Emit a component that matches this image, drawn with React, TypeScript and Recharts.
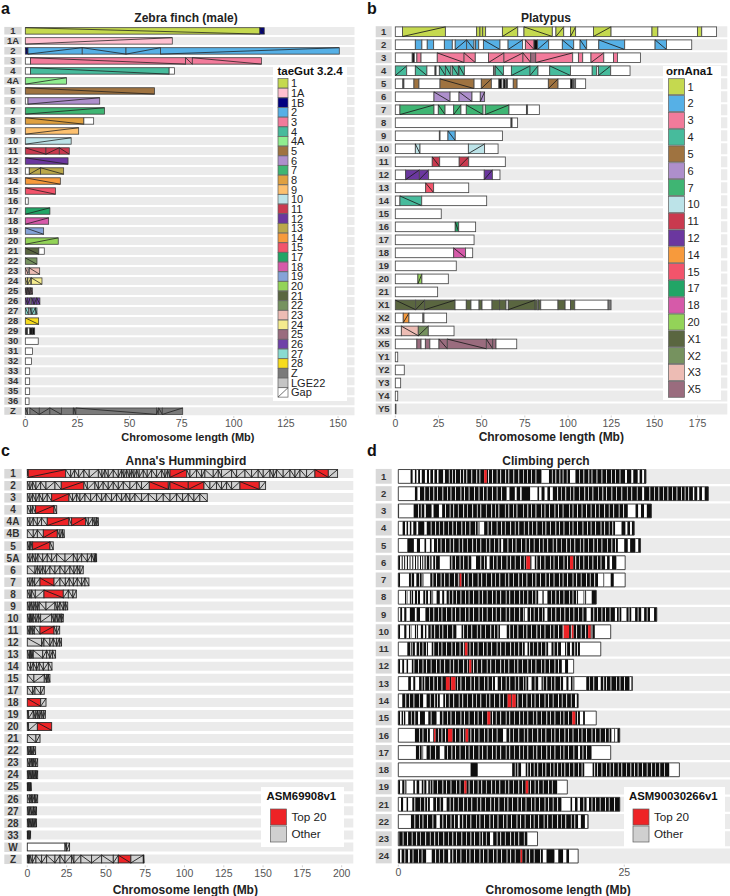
import React from "react"
import { BarChart, Bar, XAxis, YAxis, Legend } from "recharts"

// [start Mb, end Mb, colour key, diagonal direction]
type Block = [number, number, string, number?]

const FONT = "'Liberation Sans', Arial, sans-serif"
const WHITE = "#ffffff"

/* ---------- a: zebra finch ---------- */
const finchNames = ["1","1A","2","3","4","4A","5","6","7","8","9","10","11","12","13","14","15","16","17","18","19","20","21","22","23","24","25","26","27","28","29","30","31","32","33","34","35","36","Z"]
const finchLengths = [114.6,70.5,150.6,113.3,71.5,19.8,62,35.7,38,32.8,25.6,22,21.1,20.5,18.4,16.8,14.5,1.4,11.8,11.2,8.8,15.8,9.1,5.6,6.9,8,3.4,7,5.6,6.4,4.5,6.2,3.4,3,2.1,2.1,2.1,1.8,75.5]
const finchBlocks: Block[][] = [
  [[0,112.5,"1",1],[112.5,114.6,"1B",1]],
  [[0,70.5,"1A",-1]],
  [[0,1.3,"1B",1],[1.3,27.3,"2",-1],[27.3,48.3,"2",1],[48.3,64.9,"2",-1],[64.9,150.6,"2",-1]],
  [[2.5,76.9,"3",1],[76.9,80.1,"3",1],[80.1,113.3,"3",1]],
  [[2.5,69,"4",1]],
  [[0,19.8,"4A",-1]],
  [[0,62,"5",1]],
  [[1.3,35.7,"6",-1]],
  [[0,38,"7",-1]],
  [[0,28.1,"8",1]],
  [[0,25.6,"9",-1]],
  [[0,22,"10",-1]],
  [[0,9.9,"11",1],[9.9,16.3,"11",-1],[16.3,21.1,"11",1]],
  [[0,20.5,"12",1]],
  [[1.9,7.35,"13",-1],[7.35,18.4,"13",1]],
  [[0,16.8,"14",1]],
  [[0,14.5,"15",1]],
  [],
  [[0,11.8,"17",-1]],
  [[0,11.2,"18",-1]],
  [[0,8.8,"19",1]],
  [[0,15.8,"20",-1]],
  [[0,6.5,"21",1]],
  [[0,5.6,"22",1]],
  [[0,1.4,"23",1],[1.9,6.9,"23",1]],
  [[0,1,"24",1],[1.2,2.7,"24",-1],[2.9,8,"24",1]],
  [[0,0.6,"25",1],[0.6,1.2,"25",-1],[1.2,1.9,"25",1],[1.9,2.6,"25",-1],[2.6,3.4,"25",1]],
  [[0,1.1,"26",1],[1.1,2.4,"26",-1],[3.1,4.2,"26",1],[4.2,5.5,"26",-1],[5.5,7,"26",1]],
  [[0,1.5,"27",1],[2.3,3.2,"27",1],[3.2,4.8,"27",-1],[4.8,5.6,"27",1]],
  [[0,6.4,"28",1]],
  [[0,0.5,"dense"],[0.5,1,"dense"],[2.2,3.3,"dense"],[3.3,4.5,"dense"]],
  [],[],[],[],[],[],[],
  [[0,1.3,"Z",1],[2.2,6.7,"Z",1],[6.7,11.8,"Z",-1],[11.8,17.3,"Z",1],[17.3,23,"Z"],[23.3,24.3,"Z",1],[24.3,63,"Z",1],[63,64,"Z",-1],[64,65.7,"Z",1],[65.7,75.5,"Z",-1]],
]
const finchKeys = ["1","1A","1B","2","3","4","4A","5","6","7","8","9","10","11","12","13","14","15","17","18","19","20","21","22","23","24","25","26","27","28","Z","LGE22","Gap"]
const finchTicks = [0,25,50,75,100,125,150]

const PALETTE: Record<string, string> = {
  "1":"#c5d94f","1A":"#ffc0d0","1B":"#000080","2":"#56b0e6","3":"#f27b9b","4":"#47bb9c","4A":"#90ee90","5":"#9f7340",
  "6":"#ae8fcc","7":"#3fb573","8":"#dfa040","9":"#fcc06f","10":"#bce3e8","11":"#c93a4f","12":"#6b379f","13":"#bba84a",
  "14":"#f79a3c","15":"#f2546b","17":"#22a566","18":"#d65aa9","19":"#85a3d8","20":"#93d358","21":"#5a6640","22":"#76925f",
  "23":"#edbcb4","24":"#f5eb8e","25":"#9a6c7e","26":"#6f41a8","27":"#8adbd2","28":"#f7dc1e","Z":"#7a7a7a","LGE22":"#c4c4c4",
  "X1":"#5a6640","X2":"#76925f","X3":"#edbcb4","X5":"#9a6c7e","Gap":WHITE,"dense":"#0e0e0e",
  "Top 20":"#ee2326","Other":"#d0d0d0","blank":WHITE,
}

/* ---------- b: platypus ---------- */
const platypusNames = ["1","2","3","4","5","6","7","8","9","10","11","12","13","14","15","16","17","18","19","20","21","X1","X2","X3","X5","Y1","Y2","Y3","Y4","Y5"]
const platypusLengths = [186,171.6,141.9,135.9,110.2,51.7,83.4,70.8,62,59.5,63.7,60.6,42.5,52.9,26.6,46.5,45.6,44.8,35.3,30.7,24.5,124.9,29.7,34,70.3,1.4,5.2,3.1,1.4,0.4]
const platypusBlocks: Block[][] = [
  [[4.2,29,"1",-1],[47.1,49,"1"],[49,50.6,"1"],[50.6,52.3,"1"],[62,70.9,"1",-1],[74.5,90.9,"1",1],[93,97.5,"1",-1],[101.4,104.4,"1",-1],[114.7,124.9,"1",-1],[148.6,152,"1"],[174.9,177.4,"1"]],
  [[11.6,15.4,"2"],[18.5,22.2,"2"],[28.4,33,"2"],[34.7,41.3,"2",-1],[41.3,45.6,"2",1],[46.5,48.3,"2"],[51,60.6,"2",1],[65.3,73.7,"2",-1],[75.3,80.3,"3",1],[80.3,82.4,"dense"],[82.4,88.8,"2",-1],[96.7,103.3,"2",1],[107,110.8,"2",1],[117.8,132.8,"2",1],[150.4,157,"2",1]],
  [[9.8,11,"dense"],[12.5,14.9,"3"],[24.3,39.8,"3",1],[39.8,46.3,"3",1],[54,62.9,"3",-1],[62.9,73.9,"3",-1],[73.9,78.4,"3",1],[78.4,81.3,"25"],[81.3,102.7,"3",-1],[106,108.5,"3"],[113.3,120.7,"3",-1],[126.3,128.6,"3"]],
  [[0,6.6,"4",-1],[11.6,18.3,"4",1],[23,23.6,"dense"],[25.5,29,"4",1],[29,32.2,"4",1],[33,36.5,"4",1],[36.9,40,"4",1],[56.8,57.9,"Z"],[57.9,62.7,"4",1],[67.2,78,"4",-1],[78,82.6,"4",-1],[89.4,101.4,"4",1],[114,116.6,"4"],[117.6,124.7,"4",-1]],
  [[4.4,5,"dense"],[10.8,13.7,"5"],[25.9,45.6,"5",1],[49.8,55.6,"5",-1],[60,61.5,"dense"],[62.5,63.7,"dense"],[64.2,65,"dense"],[68.3,70.5,"5"],[88.6,94.2,"5",-1],[101.5,102.8,"dense"],[103.3,104.4,"Z"]],
  [[22.4,31.7,"6",1],[36.9,44.4,"6",1],[49.2,51.7,"6",-1]],
  [[2.7,22.4,"7",-1],[24.9,28.8,"7",1],[33.8,38,"7",-1],[41.1,50.8,"7",1],[52.1,65.8,"7",-1],[75.9,76.6,"dense"]],
  [[67,67.6,"dense"]],
  [[25.5,25.9,"dense"],[30.5,34.7,"2",1]],
  [[11.6,14.3,"10",1],[42.3,51.7,"10",-1]],
  [[21.4,25.7,"11",1],[37,42.5,"11",-1]],
  [[6,13.9,"12",-1],[13.9,19.3,"12",-1],[51.5,56.2,"12",-1]],
  [[17.6,22.2,"15",1]],
  [[2.7,15.3,"4",1]],
  [],
  [[34.7,36.7,"17",1]],
  [],
  [[33.8,40.7,"18",1]],
  [],
  [[13.1,15.4,"20",-1]],
  [],
  [[0,11.8,"X1",1],[11.8,17,"X1",-1],[17,34.6,"X1",-1],[41.1,43.8,"X1"],[48.5,50.2,"X1"],[56,60.4,"X1"],[60.4,64.1,"X1"],[65.4,80.9,"X1",-1],[80.9,82.2,"X1"],[82.8,84.2,"X1"],[94.2,98.3,"X1"],[101.4,103.9,"X1"],[123.2,124.9,"Z"]],
  [[4.6,7.9,"14",-1],[16,16.6,"Z"]],
  [[3.5,13.3,"X3",1],[13.3,19.1,"X2",-1]],
  [[12.5,14.9,"X5"],[17.4,20,"X5"],[25.3,30.1,"X5",1],[30.1,52.7,"X5",1],[52.7,56.4,"X5",1],[56.4,58.3,"X5"]],
  [],[],[],[],[[0,0.4,"dense"]],
]
const platypusKeys = ["1","2","3","4","5","6","7","10","11","12","14","15","17","18","20","X1","X2","X3","X5"]
const platypusTicks = [0,25,50,75,100,125,150,175]

/* ---------- c: Anna's hummingbird ---------- */
const hummingNames = ["1","2","3","4","4A","4B","5","5A","6","7","8","9","10","11","12","13","14","15","17","18","19","20","21","22","23","24","25","26","27","28","33","W","Z"]
const hummingEdges: number[][] = [
  [0,0.6,24.4,27.6,30.1,32.7,36,39.4,45.2,47.5,49.4,51.5,54.7,57.9,60,61.5,63.2,64.9,66.4,67.9,69.6,71.2,73.8,76.3,79.1,82.3,85.5,87.6,89.3,90.8,101.4,103.5,107.7,110.9,113,118.3,121.5,123.6,130,133.2,138.5,142.7,146.9,150.1,154.4,156.5,158.6,162.8,167.1,170.3,173.5,177.7,183,191.5,197.4],
  [0,1.7,3.4,5.5,8.5,11.9,17.6,21.6,36,38.2,43,45.2,48.3,51.5,54.7,57.9,61.1,65.3,69.6,72.7,77.6,89.7,90.8,102.4,112.4,116.2,120.4,123.6,126.8,130,135.3,147.6,151.6],
  [0,1.7,3.4,5.5,7.6,9.8,12.7,15.5,26.5,28.8,31.4,33.5,36.7,40.3,44.1,47.3,50,53.6,56.8,60,62.8,65.3,68.5,72.7,77,82.3,86.5,90.8,95,98.8,102.4,106,109.8,114.5],
  [0,2.1,3.4,5.3,17,18.7],
  [0,1.7,3.8,6.4,9.1,12.7,26.5,28.2,37.1,38.8,41.6,43,44.1,45.2],
  [0,3.8,6.4,10.2,19.1,20.8,22.3,23.5],
  [0,1.3,2.3,3.4,14.4,16.5],
  [0,1.7,3.4,5.1,6.8,9.8,12.7,15.5,18.7,24,29.3,31.8,34.6,38.2,40.9,42.6,43.3,44.1],
  [0,4.9,6.4,8.1,9.8,11.5,14.4,17.6,20.8,24,27.1,29.7,31.8,33.5,35.6],
  [0,1.7,3.2,4.7,8.1,17,20.8,24.2,26.7,29.3,31.8,34.6,36.7,39.2],
  [0,1.7,2.8,5.1,10.6,22.9,26.1,29,31.2],
  [0,1.3,2.5,3.8,5.1,6.4,7.6,11.9,17.6,19.1,20.8,22.9,24.2,25.7],
  [0,1.3,2.1,3,3.8,5.5,7,8.5,15.5,17,18.2,19.5,20.8,21.8,22.9],
  [0,1.3,2.3,3.4,4.5,8.1,17,18.7,20.6],
  [0,9.1,10.6,14.4,16.5,18.7,20.4,21.8],
  [0,1.3,2.1,3,3.8,9.8,12.3,14.4,16.1,18],
  [0,2.1,3.8,5.9,7.6,10.2,13.4,15.7],
  [0,4.2,10.8,12.3,13.3,14.4],
  [0,3.4,4.9,8.5,10.8],
  [0,8.5,11.9],
  [0,0.8,3.8,5.1,6.4,7.6,8.9,10.2,11.5],
  [0,0.8,6.4,15.5],
  [0,5.5,8.1],
  [0,1,2,3,4,5.3],
  [0,1.3,2.5,3.4,4.2,5.3,6.6],
  [0,0.8,1.7,2.5,3.4,4.2,5.1,5.8,6.6],
  [0,0.5,1,1.5,2,2.5],
  [0,1.5,2.5,3.2,4.5,5.5,6.6],
  [0,1,1.8,3,4,5,5.9],
  [0,0.8,1.7,2.5,3.4,4.2,5,5.9],
  [0,0.5,1,1.5,2.1],
  [24,25,26.9],
  [0,0.8,1.7,3.2,5.5,9.1,12.3,17.6,20.8,24,28.2,29.7,34.1,40.9,47.3,54.7,57.9,65.9,73.8,74.2],
]
// chromosome name -> spans that are in the top 20 longest scaffolds
const hummingTop20: Record<string, number[][]> = {
  "1": [[0.6,24.4],[90.8,101.4],[183,191.5]],
  "2": [[21.6,36],[77.6,89.7],[90.8,102.4],[102.4,112.4],[135.3,147.6]],
  "3": [[15.5,26.5]],
  "4": [[5.3,17]],
  "4A": [[12.7,26.5],[28.2,37.1]],
  "4B": [[10.2,19.1]],
  "5": [[3.4,14.4]],
  "7": [[8.1,17]],
  "8": [[10.6,22.9]],
  "11": [[8.1,17]],
  "18": [[0,8.5]],
  "20": [[6.4,15.5]],
  "Z": [[57.9,65.9]],
}
const hummingTicks = [0,25,50,75,100,125,150,175,200]

/* ---------- d: climbing perch ---------- */
const perchNames = ["1","2","3","4","5","6","7","8","9","10","11","12","13","14","15","16","17","18","19","21","22","23","24"]
const perchLengths = [27.4,34.3,28,26.1,26.8,25.1,25.1,21.9,28.6,23.5,22.4,19.4,25.9,19.9,21.9,24.5,23.5,31.1,18.7,24.5,21,15.4,19.9]
const perchGaps: number[][][] = [
  [[0,1.36],[1.6,1.84],[2.03,2.2],[2.4,2.6],[2.95,3.17],[3.4,3.55],[3.85,4],[4.3,4.45],[4.98,5.16],[15.86,16.67],[19,19.6],[25.1,25.3],[25.8,26],[26.5,26.7],[27,27.2]],
  [[0,1.84],[2.14,2.4],[12,12.3],[12.9,13.1],[13.5,13.65],[14.6,15.4],[15.6,15.85],[16.2,16.5],[16.8,17.1],[27,27.2],[32.6,32.75],[33.1,33.3],[33.6,33.9]],
  [[0.1,1.7],[2.9,3.05],[3.7,3.9],[4.5,4.85],[25.4,26.25],[26.55,26.85],[27.2,27.5]],
  [[0,0.48],[0.75,0.92],[1.1,1.28],[1.47,1.66],[2.03,2.2],[2.9,3.15],[9,9.5],[24,24.7],[25.15,25.35],[25.65,25.85]],
  [[0,1],[1.73,2.06],[2.4,2.9],[3.1,3.5],[3.7,3.95],[11.4,11.6],[24.3,25],[25.4,25.65],[26.25,26.55]],
  [[0.2,0.38],[0.5,0.65],[0.78,0.95],[1.07,1.25],[1.37,1.55],[1.68,1.85],[1.97,2.12],[2.25,2.4],[2.52,2.65],[2.78,2.9],[3.05,3.15],[3.7,3.87],[4.6,5.7],[8.1,8.6],[9.8,10.1],[14.75,15.1],[22.9,23.1],[23.4,23.65],[24.15,25.1]],
  [[0.2,1.18],[1.77,2],[2.8,3.54],[22.1,22.7],[22.8,23.5],[23.85,25.1]],
  [[0,0.74],[1.03,1.28],[1.66,1.84],[2.4,2.77],[3.3,3.5],[3.87,4.24],[4.6,4.86],[5.1,5.35],[15.5,15.95],[16.1,16.5],[19.9,20.5],[20.8,21.4]],
  [[0,0.22],[0.44,0.66],[0.92,1.28],[1.84,2.03],[2.4,3],[14,14.3],[16.2,16.5],[20.85,21.3],[23.97,24.2],[24.7,25.25],[25.8,26.2],[26.9,27.2],[27.85,28.3]],
  [[0.2,0.66],[0.92,1.18],[1.47,1.84],[2.2,2.5],[2.77,2.95],[3.13,3.32],[6.45,7],[11.25,12],[21.75,23.5]],
  [[0,1],[1.84,2.03],[3.3,3.7],[14,14.3],[16.6,16.95],[18,18.45],[19,19.2],[20.1,22.4]],
  [[0.2,0.44],[0.66,0.92],[1.1,1.5],[18.1,18.45],[18.8,19.4]],
  [[0,1.1],[1.4,1.66],[1.9,2.3],[10.7,11],[14.4,14.75],[15.5,15.85],[18.25,18.6],[18.85,19.1],[19.5,20.8],[22.1,22.4],[25.6,25.8]],
  [[0,0.44],[2.77,3.13],[4.6,4.98],[19.55,19.75]],
  [[0.2,0.37],[0.8,1.1],[2.2,2.4],[2.95,3.32],[4.25,4.6],[20.1,20.45],[20.65,21.9]],
  [[0,1.84],[3.5,3.87],[11.6,11.97],[23.6,23.9],[24,24.25]],
  [[0,1.95],[2.77,3.13],[4.6,5.1],[19.9,20.1],[21.4,23.5]],
  [[0,8],[8.8,12.6],[13.6,14.1],[20.6,21.5],[30,31.1]],
  [[0.2,0.44],[0.92,1.66],[1.84,2.03],[2.4,2.6],[3.13,3.32],[17.6,18.7]],
  [[0,0.3],[0.55,0.92],[1.1,1.55],[3.5,3.87],[4.98,5.35],[18.07,19.06],[19.25,19.55],[19.85,20.1],[20.85,21.1]],
  [[0,1.4],[4.24,4.6],[6.6,6.8],[19.9,20.2],[20.65,20.95]],
  [[0,0.1],[10.15,10.5],[14.3,15.4]],
  [[0.2,0.37],[1.1,1.28],[3.1,3.7],[5.53,5.75],[16,16.4],[17.3,17.7],[18.25,18.6],[18.9,19.9]],
]
// thin light lines inside the dense dark stretches
const perchSlits: number[][] = [
  [5.6,5.95,6.3,6.85,7.2,7.55,8.1,8.65,9,9.95,10.4,10.9,11.3,11.85,12.2,12.75,13.3,13.8,14.25,14.7,15.2,17,17.4,17.85,18.2,18.65,20,20.5,21.05,21.4,21.95,22.5,23,23.55,24,24.5],
  [2.9,3.4,3.9,4.3,4.9,5.4,5.8,6.3,6.9,7.3,7.8,8.4,8.9,9.4,9.8,10.4,10.9,11.4,17.6,18,18.5,19,19.4,20,20.6,21,21.5,22.1,22.6,23,23.6,24.1,24.7,25.3,25.8,26.4,27.8,28.3,28.8,29.3,29.8,30.3,30.8,31.3,31.7,32.1],
  [2.2,2.5,5.2,5.7,6.1,6.6,7.2,7.6,8.2,8.7,9.1,9.7,10.3,10.7,11.1,11.8,12.2,12.7,13.1,13.8,14.3,14.7,15.2,15.8,16.2,16.7,17.3,17.7,18.2,18.9,19.3,19.8,20.3,20.8,21.3,21.8,22.2,22.8,23.3,23.8,24.4,24.9],
  [3.6,4.1,4.5,5,5.5,6,6.4,7,7.4,7.9,8.5,8.8,9.9,10.3,10.9,11.4,11.8,12.4,12.9,13.3,13.9,14.4,14.8,15.3,15.9,16.3,16.8,17.4,17.8,18.3,18.9,19.3,19.8,20.4,20.9,21.3,21.8,22.4,22.8,23.3,23.7],
  [4.3,4.7,5.2,5.7,6.1,6.7,7.1,7.6,8.2,8.6,9.1,9.7,10.1,10.6,11.1,12.1,12.6,13,13.6,14.1,14.5,15,15.6,16,16.5,17.1,17.5,18,18.6,19,19.5,20.1,20.5,21,21.6,22,22.5,23.1,23.6,24],
  [3.45,4.1,5.9,6.3,6.8,7.2,7.7,9.1,9.5,10.5,10.9,11.4,12,12.4,12.9,13.5,13.9,15.3,15.7,16.2,16.8,17.2,17.7,18.3,18.7,19.6,20,20.5,21,21.5,22,22.4],
  [1.4,2.3,2.6,3.8,4.2,4.7,5.1,5.6,6.2,6.6,7.3,7.7,8.2,8.8,9.2,9.7,10.3,10.7,11.2,11.8,12.2,12.7,13.3,13.7,14.2,14.8,15.2,15.7,16.3,16.7,17.2,17.8,18.2,18.7,19.3,19.7,20.2,20.8,21.2,21.7],
  [0.85,1.4,2.1,3,3.7,5.6,6,6.4,6.9,7.4,7.8,8.3,8.9,9.3,9.8,10.4,10.8,11.3,11.9,12.3,12.8,13.4,13.8,14.3,14.8,15.2,16.9,17.4,17.8,18.3,18.9,19.3,19.7,20.6],
  [3.4,3.9,4.4,4.8,5.3,5.9,6.3,6.8,7.4,7.8,8.3,8.9,9.3,9.8,10.4,10.8,11.3,11.9,12.3,12.8,13.4,13.8,14.6,15,15.5,15.9,16.9,17.4,17.9,18.4,18.9,19.4,19.9,20.4,21.6,22,22.5,22.9,23.4,24.4,25.5,26.5,27.5],
  [1.3,2,3.6,4,4.5,4.9,5.4,6,7.2,7.6,8.1,8.7,9.1,9.6,10.2,10.6,11,12.3,12.7,13.2,13.8,14.2,14.7,15.3,15.7,16.2,16.8,17.2,17.7,18.2,19.1,19.7,20.2,20.7,21.4],
  [1.3,1.5,2.3,2.7,3.1,3.9,4.4,4.8,5.3,5.9,6.3,6.8,7.2,7.9,8.3,8.8,9.4,9.8,10.3,10.9,11.3,11.8,12.4,12.8,13.3,13.7,14.5,14.9,15.4,15.8,16.3,17.2,17.6,18.6,19.5,19.8],
  [1.7,2.2,2.7,3.1,3.6,4.2,4.6,5.1,5.7,6.1,6.6,7.2,7.6,8.3,8.7,9.2,9.8,10.2,10.7,11.3,11.7,12.2,12.8,13.2,13.7,14.3,14.7,15.2,15.8,16.2,16.7,17.3,17.7],
  [2.6,2.9,3.4,3.9,4.3,4.8,6.5,6.9,7.4,8,8.4,8.9,9.5,9.9,10.4,11.4,11.9,12.3,12.9,13.3,13.8,14.1,15.1,16,16.4,16.9,17.3,17.9,19.3,21.1,21.6,22.7,23,23.5,24.1,24.5,25],
  [0.8,1.2,1.7,2.3,3.5,4,4.3,5.2,5.6,6.1,6.7,7.1,7.6,8.2,8.6,9.1,9.7,10.1,10.6,11.2,11.6,13.2,13.7,14.2,14.7,15.1,15.6,16.2,16.6,17.1,17.7,18.1,18.6,19.1],
  [0.55,1.4,1.8,3.6,4.9,5.4,5.8,6.3,6.9,7.3,7.8,8.4,8.8,9.3,10.4,10.8,11.3,11.9,12.3,12.8,13.4,13.8,14.3,14.9,15.3,15.8,16.4,16.8,17.3,17.9,18.3,18.8,19.8],
  [2.3,2.7,3.2,4.4,4.8,5.2,6.3,6.8,7.2,8,8.4,8.9,9.5,9.9,10.4,10.9,12.3,12.7,13.3,13.9,14.3,14.8,15.4,15.8,16.3,16.9,17.3,17.8,18.4,18.8,19.3,19.9,20.3,20.8,21.4,21.8,22.3,22.9,23.3],
  [2.3,2.6,3.5,4.1,5.4,5.9,6.3,6.8,7.4,7.8,8.3,8.9,9.3,9.8,10.4,10.8,11.3,11.9,12.3,12.8,13.4,13.8,14.3,14.9,15.3,15.8,16.4,16.8,17.3,17.9,18.3,18.8,19.4,20.4,20.8],
  [9.2,9.4,12.9,13.2,14.3,14.6,15,15.4,15.9,16.3,16.8,17.2,17.6,18,18.4,18.9,19.4,19.9,20.3,21.7,22,22.5,23,23.4,23.8,24.3,24.7,25.2,25.7,26.1,26.5,27,27.5,28,28.4,28.9,29.4],
  [0.7,2.3,2.8,3.5,3.8,4.3,4.9,5.3,5.8,6.4,6.8,7.8,8.3,8.8,9.2,9.7,10.3,10.7,11.2,11.8,12.2,12.7,13.3,13.7,14.6,15.1,15.5,16,16.6,17],
  [1.8,2.4,2.9,3.2,4.2,4.6,5.7,6.1,6.6,7.2,7.6,8.1,8.7,9.1,9.6,10.2,10.6,11.1,11.7,12.1,12.6,13.2,13.6,14.1,14.7,15.1,15.6,16.2,16.6,17.1,17.6,19.9,20.5,21.4,21.8,22.3,22.9,23.3,23.9],
  [1.8,2.3,2.7,3.2,3.8,4.9,5.3,5.8,6.2,7.1,7.5,8,8.6,9,9.5,10.1,10.5,11,11.6,12,12.5,13.1,13.5,14,14.6,15,15.5,16.1,16.5,17,17.6,18,18.5,19.1,19.5],
  [0.5,1,1.5,2,2.4,3,3.5,4,4.4,5,5.5,6,6.4,7,7.5,8,8.4,9,9.3,9.7,10.9,11.3,11.8,12.4,12.8,13.3,13.9],
  [0.7,1.6,2.2,2.6,4.1,4.5,5,6,6.4,6.9,7.5,7.9,8.4,9,9.4,9.9,10.5,10.9,11.4,12,12.4,12.9,14.1,14.5,15,15.7],
]
const perchReds: number[][][] = [
  [[9.5,9.8]],[],[],[],[],
  [[14.16,14.6],[19,19.36]],
  [[6.8,7]],[],[],
  [[18.3,18.9],[19.2,19.4],[21,21.3]],
  [[7.37,7.67]],
  [[7.85,8.1]],
  [[5.27,5.7],[5.85,6.34]],
  [[12.1,12.5],[12.6,13]],
  [[9.85,10.2],[19.25,19.6]],
  [[3.95,4.13],[5.5,6],[7.45,7.75]],
  [],[],
  [[7.3,7.56],[14.1,14.4]],
  [],[],[],
  [[13.53,13.72]],
]
const perchTicks = [0,25]

const SLIT_WIDTH = 0.08

/* ---------- turning the lists into stacked rows ---------- */
type Piece = { w: number; key: string; dir: number; i: number }

function toRow(name: string, length: number, blocks: Block[]) {
  const pieces: Piece[] = []
  let cursor = 0
  blocks.forEach((b) => {
    const start = Math.max(b[0], cursor)
    if (start > cursor) pieces.push({ w: start - cursor, key: "blank", dir: 0, i: pieces.length })
    pieces.push({ w: b[1] - start, key: b[2], dir: b[3] ?? 0, i: pieces.length })
    cursor = b[1]
  })
  if (cursor < length) pieces.push({ w: length - cursor, key: "blank", dir: 0, i: pieces.length })
  const row: Record<string, unknown> = { name, pieces }
  pieces.forEach((p, i) => (row[`p${i}`] = p.w))
  return row
}

const hummingBlocks = (name: string, edges: number[]): Block[] => {
  const top = hummingTop20[name] ?? []
  const out: Block[] = []
  for (let i = 0; i + 1 < edges.length; i++) {
    const isTop = top.some((t) => edges[i] >= t[0] && edges[i + 1] <= t[1])
    out.push([edges[i], edges[i + 1], isTop ? "Top 20" : "Other", i % 2 ? -1 : 1])
  }
  return out
}

// only the light and red marks are listed, the dark stretches between them fill in
const perchBlocks = (i: number): Block[] => {
  const marks: Block[] = [
    ...perchGaps[i].map((g) => [g[0], g[1], "blank"] as Block),
    ...perchSlits[i].map((s) => [s, s + SLIT_WIDTH, "blank"] as Block),
    ...perchReds[i].map((r) => [r[0], r[1], "Top 20"] as Block),
  ].sort((a, b) => a[0] - b[0])
  const out: Block[] = []
  let cursor = 0
  marks.forEach((m) => {
    if (m[0] > cursor) out.push([cursor, m[0], "dense"])
    if (m[1] > cursor) out.push([Math.max(m[0], cursor), m[1], m[2]])
    cursor = Math.max(cursor, m[1])
  })
  if (cursor < perchLengths[i]) out.push([cursor, perchLengths[i], "dense"])
  return out
}

const finchRows = finchNames.map((n, i) => toRow(n, finchLengths[i], finchBlocks[i]))
const platypusRows = platypusNames.map((n, i) => toRow(n, platypusLengths[i], platypusBlocks[i]))
const hummingRows = hummingNames.map((n, i) => {
  const edges = hummingEdges[i]
  return toRow(n, edges[edges.length - 1], hummingBlocks(n, edges))
})
const perchRows = perchNames.map((n, i) => toRow(n, perchLengths[i], perchBlocks(i)))

/* ---------- drawing ---------- */
function PieceShape(props: any) {
  const { x, y, width, height, payload, slot, inset, plain, lineW, lineColor } = props
  const pieces: Piece[] = payload?.pieces ?? []
  const piece = pieces[slot]
  if (!piece || !(width > 0)) return null
  const top = y + inset
  const h = height - inset * 2
  const fill = PALETTE[piece.key] ?? "#999"
  if (plain) {
    // barcode panel: no edge between pieces, only the outline of the chromosome
    return (
      <g>
        <rect x={x} y={top} width={width} height={h} fill={fill} />
        <line x1={x} x2={x + width} y1={top} y2={top} stroke={lineColor} strokeWidth={lineW} />
        <line x1={x} x2={x + width} y1={top + h} y2={top + h} stroke={lineColor} strokeWidth={lineW} />
        {slot === 0 && <line x1={x} x2={x} y1={top} y2={top + h} stroke={lineColor} strokeWidth={lineW} />}
        {slot === pieces.length - 1 && (
          <line x1={x + width} x2={x + width} y1={top} y2={top + h} stroke={lineColor} strokeWidth={lineW} />
        )}
      </g>
    )
  }
  return (
    <g>
      <rect x={x} y={top} width={width} height={h} fill={fill} stroke={lineColor} strokeWidth={lineW} />
      {piece.dir !== 0 && (
        <line
          x1={x}
          x2={x + width}
          y1={piece.dir > 0 ? top : top + h}
          y2={piece.dir > 0 ? top + h : top}
          stroke="#1c1c1c"
          strokeWidth={lineW}
        />
      )}
    </g>
  )
}

function StripTick(props: any) {
  const { y, payload, stripLeft, stripWidth, stripHeight, fontSize } = props
  return (
    <g>
      <rect x={stripLeft} y={y - stripHeight / 2} width={stripWidth} height={stripHeight} fill="#d9d9d9" />
      <text
        x={stripLeft + stripWidth / 2}
        y={y}
        dy="0.35em"
        textAnchor="middle"
        fontFamily={FONT}
        fontWeight="bold"
        fontSize={fontSize}
        fill="#333"
      >
        {payload.value}
      </text>
    </g>
  )
}

function KeyBox({ box }: { box: any }) {
  return (
    <svg width={box.width} height={box.height} style={{ display: "block" }}>
      <rect width={box.width} height={box.height} fill="#fff" />
      <text x={box.titleX} y={box.titleY} fontFamily={FONT} fontWeight="bold" fontSize={box.titleSize} fill="#111">
        {box.title}
      </text>
      {box.keys.map((k: string, i: number) => {
        const cy = box.firstY + i * box.pitch
        return (
          <g key={k}>
            <rect
              x={box.keyX}
              y={cy - box.keyH / 2}
              width={box.keyW}
              height={box.keyH}
              fill={PALETTE[k]}
              stroke="#5f5f5f"
              strokeWidth={0.7}
            />
            {k === "Gap" && (
              <line
                x1={box.keyX}
                x2={box.keyX + box.keyW}
                y1={cy + box.keyH / 2}
                y2={cy - box.keyH / 2}
                stroke="#333"
                strokeWidth={0.7}
              />
            )}
            <text x={box.textX} y={cy} dy="0.36em" fontFamily={FONT} fontSize={box.textSize} fill="#222">
              {k}
            </text>
          </g>
        )
      })}
    </svg>
  )
}

function Panel(p: any) {
  const slots = Math.max(...p.rows.map((r: any) => r.pieces.length))
  const gap = (p.pitch - p.bandH) / 2
  const inset = (p.bandH - p.barH) / 2
  return (
    <div style={{ position: "absolute", left: p.left, top: p.top }}>
      <BarChart
        width={p.width}
        height={p.height}
        data={p.rows}
        layout="vertical"
        barCategoryGap={gap}
        margin={{ top: p.plotTop, right: p.plotRight, bottom: p.plotBottom, left: 0 }}
      >
        <XAxis
          type="number"
          domain={[0, p.maxX]}
          ticks={p.ticks}
          axisLine={false}
          tickSize={2}
          tickLine={{ stroke: "#aaa", strokeWidth: 0.6 }}
          height={30}
          interval={0}
          tick={{ fontSize: 10.5, fontFamily: FONT, fill: "#555" }}
          label={{
            value: "Chromosome length (Mb)",
            position: "insideBottom",
            offset: p.labelOffset,
            dx: p.labelDx,
            style: { fontFamily: FONT, fontWeight: "bold", fontSize: p.labelSize, fill: "#222" },
          }}
        />
        <YAxis
          type="category"
          dataKey="name"
          width={p.plotLeft}
          axisLine={false}
          tickLine={false}
          interval={0}
          tick={(t: any) => (
            <StripTick
              {...t}
              stripLeft={p.stripLeft}
              stripWidth={p.stripWidth}
              stripHeight={p.bandH}
              fontSize={p.stripFont}
            />
          )}
        />
        {Array.from({ length: slots }, (_, i) => (
          <Bar
            key={i}
            dataKey={`p${i}`}
            stackId="chromosome"
            isAnimationActive={false}
            background={i === 0 ? { fill: "#ebebeb" } : undefined}
            shape={(s: any) => (
              <PieceShape {...s} slot={i} inset={inset} plain={p.plain} lineW={p.lineW} lineColor={p.lineColor} />
            )}
          />
        ))}
        <Legend
          layout="vertical"
          align="center"
          verticalAlign="middle"
          wrapperStyle={{ left: p.box.x, top: p.box.y, width: p.box.width, height: p.box.height }}
          content={() => <KeyBox box={p.box} />}
        />
      </BarChart>
      <div
        style={{
          position: "absolute",
          left: 0,
          width: p.titleCx * 2,
          top: p.titleY,
          textAlign: "center",
          fontFamily: FONT,
          fontWeight: "bold",
          fontSize: 12,
          lineHeight: "12px",
          color: "#222",
        }}
      >
        {p.title}
      </div>
      <div
        style={{
          position: "absolute",
          left: p.letterX,
          top: p.letterY,
          fontFamily: FONT,
          fontWeight: "bold",
          fontSize: 16,
          lineHeight: "18px",
          color: "#111",
        }}
      >
        {p.letter}
      </div>
    </div>
  )
}

export default function App() {
  return (
    <div style={{ position: "absolute", left: 0, top: 0, width: 730, height: 896, background: "#fff", overflow: "hidden" }}>
      <Panel
        letter="a" letterX={1} letterY={0} title="Zebra finch (male)" titleCx={186} titleY={12}
        left={0} top={0} width={365} height={446} rows={finchRows} ticks={finchTicks} maxX={157.9}
        plotLeft={25.3} plotRight={10.5} plotTop={25.7} plotBottom={0}
        pitch={10} bandH={7.6} barH={6} stripLeft={4.3} stripWidth={17.4} stripFont={9.5}
        lineW={0.75} lineColor="#3a3a3a"
        labelOffset={5} labelDx={-2} labelSize={11}
        box={{ x: 272.5, y: 66, width: 74.5, height: 335, title: "taeGut 3.2.4", titleX: 4.5, titleY: 9, titleSize: 11.5,
          keys: finchKeys, firstY: 17.3, pitch: 9.66, keyX: 5, keyW: 10, keyH: 9.4, textX: 18, textSize: 11 }}
      />
      <Panel
        letter="b" letterX={2} letterY={0} title="Platypus" titleCx={181} titleY={12}
        left={365} top={0} width={365} height={446} rows={platypusRows} ticks={platypusTicks} maxX={192.2}
        plotLeft={30.3} plotRight={2.7} plotTop={25.2} plotBottom={0.5}
        pitch={13} bandH={11} barH={9.6} stripLeft={10.7} stripWidth={16} stripFont={9.5}
        lineW={0.85} lineColor="#4a4a4a"
        labelOffset={5} labelDx={-10} labelSize={12}
        box={{ x: 297.5, y: 66, width: 58, height: 334, title: "ornAna1", titleX: 3, titleY: 9, titleSize: 11.5,
          keys: platypusKeys, firstY: 20.7, pitch: 16.81, keyX: 5.5, keyW: 16, keyH: 16, textX: 24.5, textSize: 11 }}
      />
      <Panel
        letter="c" letterX={1} letterY={-8} title="Anna's Hummingbird" titleCx={186} titleY={5}
        left={0} top={450} width={365} height={446} rows={hummingRows} ticks={hummingTicks} maxX={207.4}
        plotLeft={27.3} plotRight={11.7} plotTop={17.7} plotBottom={0.7}
        pitch={12.05} bandH={9.5} barH={8.3} stripLeft={4.3} stripWidth={17.4} stripFont={10}
        lineW={0.9} lineColor="#2a2a2a"
        labelOffset={1} labelDx={-5} labelSize={12}
        box={{ x: 260.5, y: 337, width: 83, height: 60, title: "ASM69908v1", titleX: 5.5, titleY: 13, titleSize: 11.4,
          keys: ["Top 20", "Other"], firstY: 30, pitch: 17, keyX: 9.5, keyW: 16, keyH: 16, textX: 30.5, textSize: 11.7 }}
      />
      <Panel
        letter="d" letterX={2} letterY={-8} title="Climbing perch" titleCx={181} titleY={5}
        left={365} top={450} width={365} height={446} rows={perchRows} ticks={perchTicks} maxX={36.7}
        plotLeft={33.3} plotRight={0} plotTop={17.7} plotBottom={1.4} plain
        pitch={17.26} bandH={14.8} barH={13.6} stripLeft={10.7} stripWidth={16} stripFont={9.5}
        lineW={0.9} lineColor="#333"
        labelOffset={1} labelDx={-6} labelSize={12}
        box={{ x: 258.5, y: 337, width: 101.5, height: 60, title: "ASM90030266v1", titleX: 5, titleY: 13, titleSize: 11.4,
          keys: ["Top 20", "Other"], firstY: 30, pitch: 17, keyX: 9, keyW: 16, keyH: 16, textX: 30, textSize: 11.7 }}
      />
    </div>
  )
}
